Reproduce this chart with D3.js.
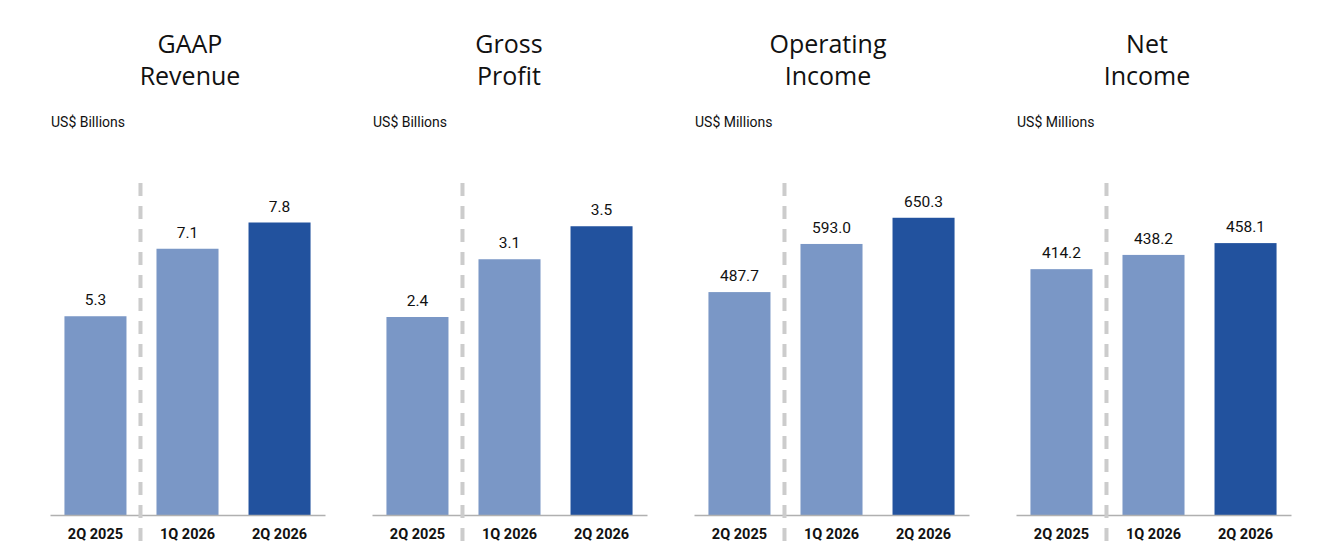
<!DOCTYPE html>
<html>
<head>
<meta charset="utf-8">
<script src="https://cdn.jsdelivr.net/npm/d3@7"></script>
<style>
  body { margin: 0; background: #fff; }
  svg { display: block; font-family: Roboto, "Noto Sans", sans-serif; }
</style>
</head>
<body>
<svg width="1336" height="554"></svg>
<script>
// chart data
var titles = [["GAAP", "Revenue"], ["Gross", "Profit"], ["Operating", "Income"], ["Net", "Income"]];
var units = ["US$ Billions", "US$ Billions", "US$ Millions", "US$ Millions"];
var periods = ["2Q 2025", "1Q 2026", "2Q 2026"];
var revenue = [5.3, 7.1, 7.8];
var grossProfit = [2.4, 3.1, 3.5];
var operatingIncome = [487.7, 593.0, 650.3];
var netIncome = [414.2, 438.2, 458.1];
var yMax = [8.8, 4.0, 722, 556];

var series = [revenue, grossProfit, operatingIncome, netIncome];
var fmt = d3.format(".1f");

var svg = d3.select("svg");
var panelStep = 322;
var baseY = 515, topY = 185;
var lightBlue = "#7a97c6", darkBlue = "#22529e";

series.forEach(function(vals, p) {
    var x0 = 50 + panelStep * p;
    var g = svg.append("g");

    var x = d3.scaleBand().domain(periods).range([x0, x0 + 275])
        .paddingInner(0.326).paddingOuter(0.157);
    var y = d3.scaleLinear().domain([0, yMax[p]]).range([baseY, topY]);

    // title, two lines
    var cx = 190 + 319 * p;
    g.append("text")
        .attr("x", cx).attr("y", 53)
        .attr("text-anchor", "middle")
        .attr("font-size", 25)
        .attr("font-family", "'Open Sans', sans-serif")
        .attr("fill", "#111")
        .selectAll("tspan").data(titles[p]).join("tspan")
        .attr("x", cx)
        .attr("dy", function(d, i) { return i ? 32 : 0; })
        .text(function(d) { return d; });

    g.append("text")
        .attr("x", x0 + 1).attr("y", 127)
        .attr("font-size", 14)
        .attr("fill", "#111")
        .text(units[p]);

    // bars
    g.selectAll("rect").data(vals).join("rect")
        .attr("x", function(d, i) { return x(periods[i]); })
        .attr("y", function(d) { return y(d); })
        .attr("width", x.bandwidth())
        .attr("height", function(d) { return baseY - y(d); })
        .attr("fill", function(d, i) { return i == 2 ? darkBlue : lightBlue; });

    // value labels
    g.selectAll("text.val").data(vals).join("text")
        .attr("class", "val")
        .attr("x", function(d, i) { return x(periods[i]) + x.bandwidth() / 2; })
        .attr("y", function(d) { return y(d) - 11; })
        .attr("text-anchor", "middle")
        .attr("font-size", 15.5)
        .attr("fill", "#111")
        .text(function(d) { return fmt(d); });

    // x axis
    var axis = g.append("g")
        .attr("transform", "translate(0," + baseY + ")")
        .call(d3.axisBottom(x).tickSize(0).tickPadding(14));
    axis.select(".domain").attr("stroke", "#b0b0b0").attr("stroke-width", 1.5);
    axis.selectAll(".tick text")
        .attr("font-size", 14.5)
        .attr("font-weight", "bold")
        .attr("font-family", "Roboto, sans-serif")
        .attr("fill", "#111");

    // dashed separator after the year-ago quarter
    var sepX = (x(periods[0]) + x.bandwidth() + x(periods[1])) / 2 - 1;
    g.append("line")
        .attr("x1", sepX).attr("x2", sepX)
        .attr("y1", 183).attr("y2", 544)
        .attr("stroke", "#cccccc")
        .attr("stroke-width", 4)
        .attr("stroke-dasharray", "13,10");
});
</script>
</body>
</html>
